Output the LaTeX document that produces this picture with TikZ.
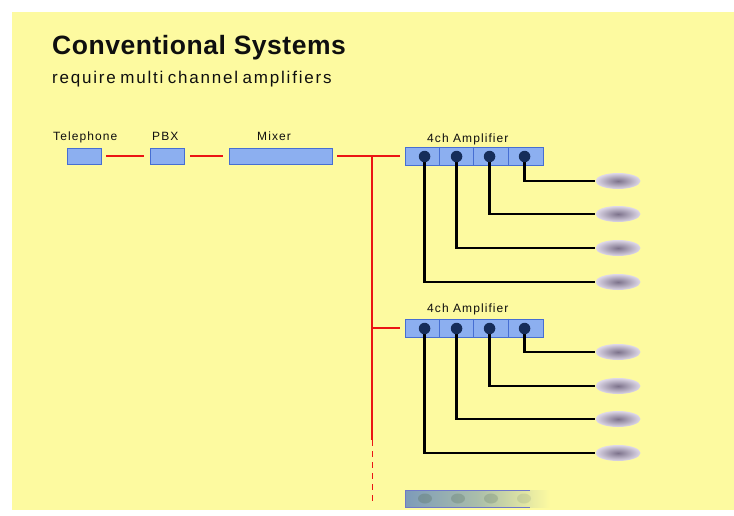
\documentclass[tikz,border=0pt]{standalone}
\usepackage{fontspec}
\setmainfont{Liberation Sans}
\newfontfamily\titlefont[LetterSpace=2]{Liberation Sans}
\newfontfamily\subfont[LetterSpace=10.5,WordSpace=0.7]{Liberation Sans}
\newfontfamily\labfont[LetterSpace=9]{Liberation Sans}
\usetikzlibrary{shapes.geometric,calc}
\definecolor{bg}{RGB}{253,250,160}
\definecolor{boxfill}{RGB}{140,175,240}
\definecolor{boxdraw}{RGB}{70,110,210}
\definecolor{dotc}{RGB}{22,45,90}
\definecolor{redl}{RGB}{235,20,20}
\definecolor{txt}{RGB}{15,15,15}
\definecolor{spkin}{RGB}{125,115,140}
\definecolor{spkout}{RGB}{222,216,232}
\definecolor{fadeL}{RGB}{125,155,185}
\definecolor{fadeM}{RGB}{170,190,170}
\definecolor{fadeDot}{RGB}{90,115,100}
\definecolor{fadeEdge}{RGB}{110,120,200}
\tikzset{
  unitbox/.style={draw=boxdraw,fill=boxfill,line width=0.9pt,minimum height=16pt,inner sep=0pt},
  ampbox/.style={draw=boxdraw,fill=boxfill,line width=0.9pt,minimum width=138pt,minimum height=18pt,inner sep=0pt},
  jack/.style={circle,fill=dotc,minimum size=11.5pt,inner sep=0pt},
  speaker/.style={ellipse,inner color=spkin,outer color=spkout,minimum width=45pt,minimum height=16pt,inner sep=0pt},
  lab/.style={anchor=base west,inner sep=0pt,text=txt,font=\labfont\fontsize{12}{14}\selectfont},
  redwire/.style={draw=redl,line width=1.5pt},
  blkwire/.style={draw=black,line width=2.4pt},
}
\begin{document}
\begin{tikzpicture}[x=1pt,y=-1pt]
\useasboundingbox (0,0) rectangle (734,515);
\fill[white] (0,0) rectangle (734,515);
\fill[bg] (12,12) rectangle (734,510);
% title
\node[anchor=base west,inner sep=0pt,text=txt,font=\titlefont\bfseries\fontsize{26.5}{30}\selectfont] (title) at (52,54) {Conventional Systems};
\node[anchor=base west,inner sep=0pt,text=txt,font=\subfont\fontsize{17}{20}\selectfont] (sub) at (52,83) {require multi channel amplifiers};
% chain
\node[unitbox,minimum width=34pt] (tel) at (84,156) {};
\node[unitbox,minimum width=34pt] (pbx) at (167,156) {};
\node[unitbox,minimum width=103pt] (mix) at (280.5,156) {};
\node[lab] (tellab) at (53,140) {Telephone};
\node[lab] (pbxlab) at (152,140) {PBX};
\node[lab] (mixlab) at (257,140) {Mixer};
% amplifiers
\node[ampbox] (amp1) at (474,156) {};
\node[ampbox] (amp2) at (474,328) {};
\foreach \a in {amp1,amp2}{
  \foreach \k in {1,2,3}{
    \draw[boxdraw,line width=0.7pt] ($(\a.north west)+(34.5*\k,0)$) -- ($(\a.south west)+(34.5*\k,0)$);
  }
}
\node[lab] (amp1lab) at (427,142) {4ch Amplifier};
\node[lab] (amp2lab) at (427,312) {4ch Amplifier};
% red wiring
\coordinate (j1) at (372,156);
\coordinate (j2) at (372,328);
\coordinate (jend) at (372,440);
\coordinate (jdash) at (372,504);
\draw[redwire,shorten <=5pt,shorten >=6pt] (tel) -- (pbx);
\draw[redwire,shorten <=6pt,shorten >=6pt] (pbx) -- (mix);
\draw[redwire,shorten <=5pt] (mix.east) -- (j1);
\draw[redwire,shorten >=5pt] (j1) -- (amp1.west);
\draw[redwire,shorten >=5pt] (j2) -- (amp2.west);
\draw[redwire] (j1) -- (jend);
\draw[redwire,line width=1pt,dash pattern=on 6pt off 5pt] (jend) -- (jdash);
% speakers
\foreach \i/\y in {1/181,2/214,3/248,4/282}{
  \node[speaker] (sa\i) at (618,\y) {};
}
\foreach \i/\y in {1/352,2/386,3/419,4/453}{
  \node[speaker] (sb\i) at (618,\y) {};
}
% black wiring
\foreach \a/\s in {amp1/sa,amp2/sb}{
  \coordinate (\a d1) at ($(\a.west)+(20,0.5)$);
  \coordinate (\a d2) at ($(\a.west)+(52,0.5)$);
  \coordinate (\a d3) at ($(\a.west)+(85,0.5)$);
  \coordinate (\a d4) at ($(\a.west)+(120,0.5)$);
  \draw[blkwire] (\a d4) |- (\s1.west);
  \draw[blkwire] (\a d3) |- (\s2.west);
  \draw[blkwire] (\a d2) |- (\s3.west);
  \draw[blkwire] (\a d1) |- (\s4.west);
  \foreach \k in {1,2,3,4}{
    \node[jack] (\a j\k) at (\a d\k) {};
  }
}
% faded third amplifier
\shade[left color=fadeL,right color=bg,middle color=fadeM] (405,490) rectangle (550,507);
\foreach \x/\o in {425/0.35,458/0.3,491/0.25,524/0.15}{
  \fill[fadeDot,opacity=\o] (\x,498.5) ellipse (7pt and 5pt);
}
\draw[line width=0.8pt,draw=fadeEdge] (530,490) -- (405,490) -- (405,507) -- (530,507);
\end{tikzpicture}
\end{document}
